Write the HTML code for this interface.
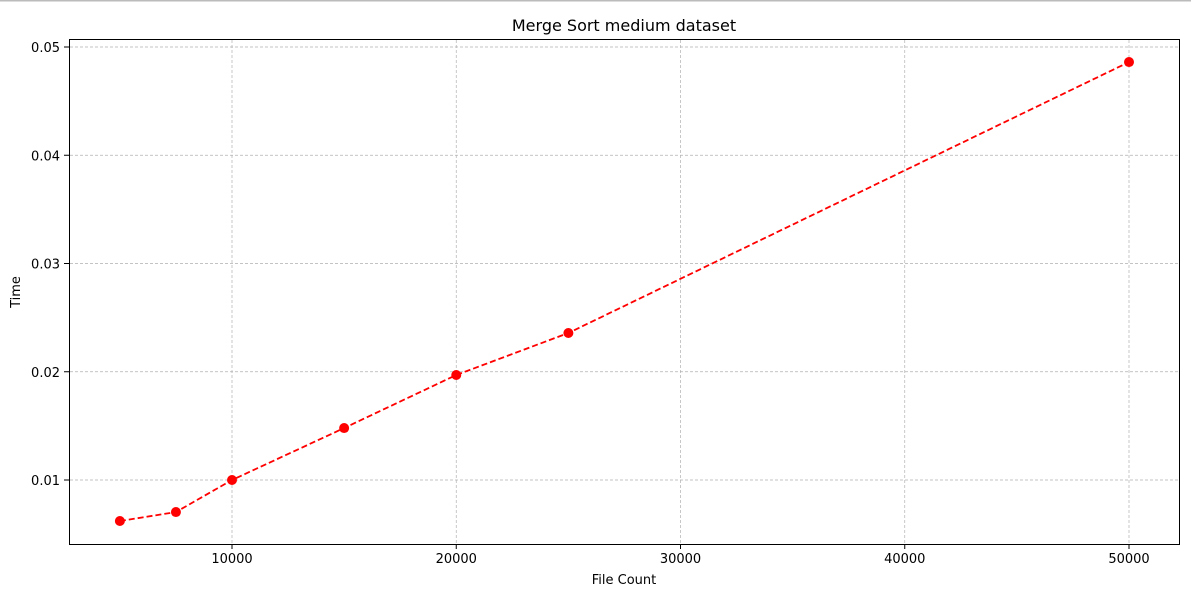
<!DOCTYPE html>
<html><head><meta charset="utf-8"><style>
body{margin:0;background:#fff;width:1191px;height:596px;overflow:hidden;font-family:"Liberation Sans","DejaVu Sans",sans-serif}
</style></head><body>
<svg id="chart" width="1191" height="596" xmlns="http://www.w3.org/2000/svg" font-family="DejaVu Sans, Liberation Sans, sans-serif">
<rect x="0" y="0" width="1191" height="1.5" fill="#bbb"/>
<text x="624" y="31" font-size="16" text-anchor="middle">Merge Sort medium dataset</text>
<g id="grid"></g>
<g id="axes"></g>
<g id="series"></g>
<rect x="69.5" y="39.5" width="1110" height="505" fill="none" stroke="#000" stroke-width="1"/>
<text x="624" y="584" font-size="13" text-anchor="middle">File Count</text>
<text transform="translate(20,292) rotate(-90)" font-size="13" text-anchor="middle">Time</text>
</svg>
<script>
const fileCounts=[5000,7500,10000,15000,20000,25000,50000];
const times=[0.00621,0.00704,0.0100,0.0148,0.0197,0.02358,0.04861];
const xTicks=[10000,20000,30000,40000,50000];
const yTicks=[0.01,0.02,0.03,0.04,0.05];
const yTickLabels=["0.01","0.02","0.03","0.04","0.05"];
const NS="http://www.w3.org/2000/svg";
function xs(v){return 232+(v-10000)*(1129-232)/40000;}
function ys(v){return 480-(v-0.01)*(480-47)/0.04;}
function mk(t,a,p){const e=document.createElementNS(NS,t);for(const k in a)e.setAttribute(k,a[k]);p.appendChild(e);return e;}
const grid=document.getElementById('grid'),axes=document.getElementById('axes'),ser=document.getElementById('series');
xTicks.forEach(v=>{const x=xs(v);
const g=mk('line',{x1:x,x2:x,y1:40,y2:544,stroke:'#b0b0b0','stroke-width':0.7,'stroke-dasharray':'3,2'},grid);


const t=mk('line',{x1:x,x2:x,y1:544,y2:549,stroke:'#000'},axes);


const l=mk('text',{x:x,y:563,'font-size':13,'text-anchor':'middle'},axes);l.textContent=String(v);

});
yTicks.forEach((v,i)=>{const y=ys(v);
const g=mk('line',{x1:70,x2:1179,y1:y,y2:y,stroke:'#b0b0b0','stroke-width':0.7,'stroke-dasharray':'3,2'},grid);


const t=mk('line',{x1:64,x2:69,y1:y,y2:y,stroke:'#000'},axes);


const l=mk('text',{x:60,y:y+5,'font-size':13,'text-anchor':'end'},axes);l.textContent=yTickLabels[i];

});
const pts=fileCounts.map((c,i)=>xs(c)+','+ys(times[i])).join(' ');
const pl=mk('polyline',{points:pts,fill:'none',stroke:'#ff0000','stroke-width':1.8,'stroke-dasharray':'6,3'},ser);


fileCounts.forEach((c,i)=>{const m=mk('circle',{cx:xs(c),cy:ys(times[i]),r:5,fill:'#ff0000'},ser);

});
</script>
</body></html>
